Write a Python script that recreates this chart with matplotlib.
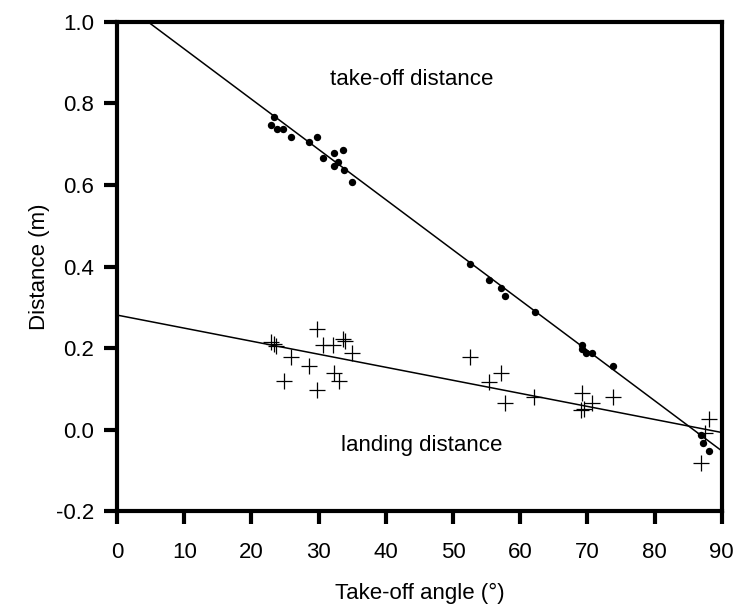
import numpy as np
import matplotlib
matplotlib.use("Agg")
import matplotlib.pyplot as plt

plt.rcParams['font.family'] = ['Liberation Sans', 'DejaVu Sans']

# take-off distance (dots)
takeoff_angle = [23.3, 22.9, 23.8, 24.7, 25.9, 28.5, 29.8, 30.6, 32.3, 33.6, 32.9, 32.3, 33.8, 34.9,
                 52.5, 55.3, 57.2, 57.7, 62.2, 69.2, 69.2, 69.8, 70.7, 73.8,
                 86.9, 87.2, 88.1]
takeoff_dist = [0.768, 0.748, 0.737, 0.737, 0.718, 0.706, 0.718, 0.667, 0.679, 0.687, 0.657, 0.647, 0.637, 0.607,
                0.407, 0.367, 0.348, 0.328, 0.288, 0.207, 0.198, 0.188, 0.188, 0.157,
                -0.012, -0.032, -0.052]

# landing distance (crosses)
landing_angle = [29.8, 22.9, 23.3, 23.7, 30.6, 32.2, 33.6, 33.9, 34.9, 25.9, 28.6, 32.3, 33.0, 24.8, 29.8,
                 52.5, 57.2, 55.4, 57.7, 62.1,
                 69.2, 70.7, 73.8, 69.0, 69.5,
                 88.1, 87.5, 86.9]
landing_dist = [0.247, 0.215, 0.210, 0.205, 0.207, 0.207, 0.222, 0.217, 0.187, 0.179, 0.156, 0.139, 0.119, 0.119, 0.097,
                0.177, 0.138, 0.117, 0.066, 0.079,
                0.089, 0.066, 0.079, 0.048, 0.050,
                0.026, -0.008, -0.083]

# regression lines (end points)
fit_x = [0, 90]
takeoff_fit = [1.057, -0.052]
landing_fit = [0.281, -0.007]

fig = plt.figure(figsize=(7.41, 6.10), dpi=100)
ax = fig.add_axes([0.158, 0.162, 0.816, 0.802])

ax.plot(fit_x, takeoff_fit, color='black', lw=1.1)
ax.plot(fit_x, landing_fit, color='black', lw=1.1)
ax.plot(takeoff_angle, takeoff_dist, 'o', color='black', ms=5.3, mew=0)
ax.plot(landing_angle, landing_dist, '+', color='black', ms=12, mew=0.9)

ax.text(43.9, 0.86, "take-off distance", fontsize=16, ha='center', va='center')
ax.text(45.4, -0.038, "landing distance", fontsize=16, ha='center', va='center')

ax.set_xlim(0, 90)
ax.set_ylim(-0.2, 1.0)
ax.set_xticks(np.arange(0, 91, 10))
ax.set_yticks([-0.2, 0.0, 0.2, 0.4, 0.6, 0.8, 1.0])
ax.set_yticklabels(["-0.2", "0.0", "0.2", "0.4", "0.6", "0.8", "1.0"])
ax.tick_params(direction='out', length=9.5, width=3, labelsize=16)
ax.tick_params(axis='x', pad=13)
ax.tick_params(axis='y', pad=7)
for s in ax.spines.values():
    s.set_linewidth(3)

ax.set_xlabel("Take-off angle (°)", fontsize=16, labelpad=14)
ax.set_ylabel("Distance (m)", fontsize=16, labelpad=4)

fig.savefig("out.png", dpi=100)
